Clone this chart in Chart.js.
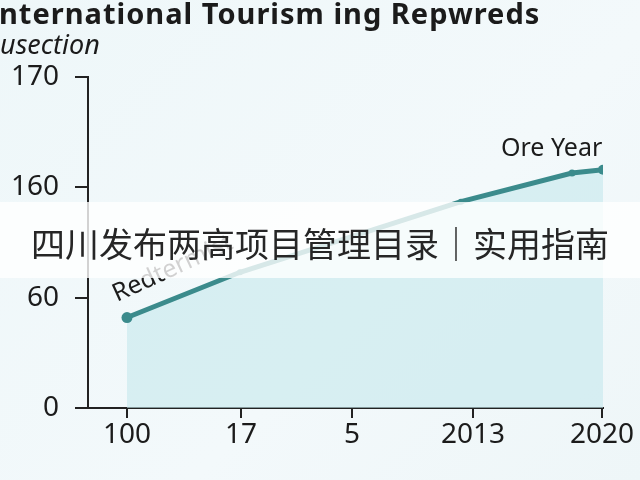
<!DOCTYPE html>
<html>
<head>
<meta charset="utf-8">
<script src="https://cdn.jsdelivr.net/npm/chart.js@4/dist/chart.umd.min.js"></script>
<style>
  html, body { margin: 0; padding: 0; }
  body { width: 640px; height: 480px; overflow: hidden;
         background: linear-gradient(135deg, #eef7f9 0%, #f3f9fb 60%, #eef6f8 100%); }
  #wrap { position: relative; width: 640px; height: 480px; }
</style>
</head>
<body>
<div id="wrap"><canvas id="chart" width="640" height="480"></canvas></div>
<script>
// Axis labels (y labels sit on evenly spaced positions 0..3)
const yLabels = ['0', '60', '160', '170'];
const xLabels = ['100', '17', '5', '2013', '2020'];
const xTickPos = [0, 1.14, 2.25, 3.46, 4.75];

// Series (x in tick units, y in axis-step units)
const seriesX = [0, 1.13, 3.34, 4.45, 4.76];
const seriesY = [0.82, 1.23, 1.87, 2.13, 2.16];
const pointSizes = [5.5, 3, 3, 3.5, 5];

const titleText = 'nternational Tourism ing Repwreds';
const subtitleText = 'usection';
const bannerText = '四川发布两高项目管理目录｜实用指南';
const teal = '#3b8b8c';
const ink = '#1b1b1b';

const overlay = {
    id: 'overlay',
    afterDraw(chart) {
        const ctx = chart.ctx;
        ctx.save();
        // title + subtitle
        ctx.fillStyle = ink;
        ctx.textBaseline = 'alphabetic';
        ctx.textAlign = 'left';
        ctx.letterSpacing = '1px';
        ctx.font = 'bold 29px "Noto Sans"';
        ctx.fillText(titleText, -1, 24);
        ctx.letterSpacing = '0px';
        ctx.font = 'italic 27px "Noto Sans"';
        ctx.fillText(subtitleText, 0, 54);

        // annotations
        ctx.font = '25px "Noto Sans"';
        ctx.fillText('Ore Year', 501, 156);
        ctx.save();
        ctx.translate(117, 302);
        ctx.rotate(-0.43);
        ctx.fillText('Redtermist', 0, 0);
        ctx.restore();

        // white banner over the middle
        ctx.fillStyle = 'rgba(255,255,255,0.8)';
        ctx.fillRect(0, 202, 640, 76);
        ctx.fillStyle = '#262626';
        ctx.font = '34px "Noto Sans CJK SC"';
        ctx.textAlign = 'center';
        ctx.fillText(bannerText, 320, 257);
        ctx.restore();
    }
};

new Chart(document.getElementById('chart'), {
    type: 'line',
    data: {
        datasets: [{
            data: seriesX.map((x, i) => ({ x: x, y: seriesY[i] })),
            borderColor: teal,
            borderWidth: 5,
            backgroundColor: 'rgba(196, 232, 236, 0.6)',
            fill: 'origin',
            pointRadius: pointSizes,
            pointBackgroundColor: teal,
            pointBorderWidth: 0,
            tension: 0
        }]
    },
    options: {
        responsive: false,
        animation: false,
        layout: { padding: { top: 77, right: 37, left: 0, bottom: 0 } },
        plugins: { legend: { display: false }, tooltip: { enabled: false } },
        scales: {
            x: {
                type: 'linear',
                min: -0.39,
                max: 4.76,
                afterBuildTicks: axis => { axis.ticks = xTickPos.map(v => ({ value: v })); },
                afterFit: axis => { axis.height = 72; },
                ticks: {
                    callback: (v, i) => xLabels[i],
                    color: ink,
                    font: { family: 'Noto Sans', size: 28 },
                    padding: 0,
                    maxRotation: 0
                },
                grid: { drawOnChartArea: false, tickLength: 10, color: '#222', lineWidth: 2 },
                border: { color: '#222', width: 2 }
            },
            y: {
                type: 'linear',
                min: 0,
                max: 3,
                afterBuildTicks: axis => { axis.ticks = yLabels.map((l, i) => ({ value: i })); },
                afterFit: axis => { axis.width = 88; },
                ticks: {
                    callback: v => yLabels[v],
                    color: ink,
                    font: { family: 'Noto Sans', size: 28 },
                    padding: 16
                },
                grid: { drawOnChartArea: false, tickLength: 13, color: '#222', lineWidth: 2 },
                border: { color: '#222', width: 2 }
            }
        }
    },
    plugins: [overlay]
});
</script>
</body>
</html>
